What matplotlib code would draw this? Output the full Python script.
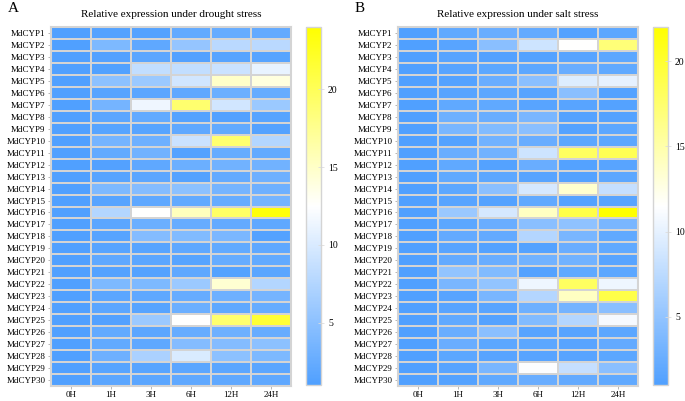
import matplotlib

matplotlib.use("Agg")
import matplotlib.pyplot as plt
import numpy as np
from matplotlib.colors import LinearSegmentedColormap

genes = [f"MdCYP{i}" for i in range(1, 31)]
times = ["0H", "1H", "3H", "6H", "12H", "24H"]

# relative expression, rows = genes, cols = time points
drought = [
    [1, 1.3, 1.3, 2.2, 2.5, 2.3],
    [1, 4, 2, 5.5, 8, 8],
    [1, 1.2, 1.8, 1.2, 1.5, 1.5],
    [1, 1.1, 8.5, 8.5, 9, 11],
    [1, 5, 6, 9.5, 15, 14],
    [1, 1.5, 1.8, 2, 2.8, 2.5],
    [1, 3.5, 11.5, 19, 9.5, 6],
    [1, 1.8, 2.2, 1.3, 1.2, 1.5],
    [1, 1.5, 1.5, 2, 2.2, 1.3],
    [1, 3.5, 3, 9, 19, 7.5],
    [1, 2.2, 3.2, 1.3, 2.5, 2.2],
    [1, 1.2, 2, 2.8, 3.2, 3.2],
    [1, 1.5, 1.8, 1.3, 2.3, 3],
    [1, 4, 4.5, 5, 3.5, 3],
    [1, 1.5, 2, 2.2, 2.5, 3.5],
    [1, 7.5, 12.5, 15.5, 19.5, 23.5],
    [1, 1.8, 2.8, 2.5, 2.3, 2],
    [1, 1.5, 4.5, 4.3, 3.8, 1.3],
    [1, 1.5, 1.5, 2, 2.2, 2],
    [1, 2, 1.8, 1.5, 2.5, 2.2],
    [1, 1.3, 1.3, 2, 1.3, 1.8],
    [1, 4, 4, 6, 14.5, 7.5],
    [1, 1.8, 2, 2.5, 3, 3.5],
    [1, 1.8, 1.5, 2.8, 2, 2.5],
    [1, 1.2, 6, 12.5, 19, 21.5],
    [1, 2.2, 1.8, 2.5, 3, 2.5],
    [1, 2.2, 2, 4.5, 4.5, 5],
    [1, 3, 7, 10, 5, 4],
    [1, 1.5, 1.5, 1.8, 1.8, 1.8],
    [1, 1.8, 1.8, 2, 2, 2],
]

salt = [
    [1, 2, 2.5, 2.2, 1.3, 1.8],
    [1, 1.5, 4.5, 8.5, 11.5, 17],
    [1, 1.5, 1.2, 1.3, 1.5, 1.8],
    [1, 1.5, 1.8, 1.8, 2.5, 2],
    [1, 1.3, 2.5, 4.5, 9.5, 10],
    [1, 1.5, 1.8, 1.5, 4.5, 1.3],
    [1, 2, 2, 1.5, 1.5, 1.3],
    [1, 2.8, 2.5, 3.5, 1.3, 1.3],
    [1, 3.5, 4, 4.5, 1.3, 1.8],
    [1, 1.3, 3, 2.5, 1.8, 1.8],
    [1, 2.5, 3, 8.5, 18, 18.5],
    [1, 2, 1.3, 2.5, 1.3, 1.5],
    [1, 2, 1.8, 1.5, 1.3, 1.8],
    [1, 1.8, 4.5, 9, 13.5, 8],
    [1, 1.5, 1.3, 2, 1.3, 1.5],
    [1, 5.5, 9, 14, 19, 22],
    [1, 1.8, 2.5, 4.5, 4.8, 3.5],
    [1, 2.2, 2.2, 7, 3.5, 2],
    [1, 1.5, 1.3, 1.3, 2.5, 2],
    [1, 2.2, 2.5, 3, 3, 1.5],
    [1, 5, 4, 1.3, 2, 1.8],
    [1, 3.5, 5, 10.5, 18, 10.5],
    [1, 1.5, 3.5, 7, 14, 19],
    [1, 1.5, 1.5, 2.8, 3.2, 4.5],
    [1, 2, 1.3, 4, 7, 11],
    [1, 2.5, 4.5, 1.5, 1.5, 1.8],
    [1, 2.5, 1.8, 1.8, 1.5, 2.2],
    [1, 1.8, 1.5, 1.5, 1.5, 1.8],
    [1, 1.5, 3.5, 11.3, 8, 4.5],
    [1, 1.3, 2, 2.5, 2.2, 2],
]

panels = [
    ("A", "Relative expression under drought stress", drought, (1, 24)),
    ("B", "Relative expression under salt stress", salt, (1, 22)),
]
cbar_ticks = [5, 10, 15, 20]

plt.rcParams["font.family"] = ["Liberation Serif", "DejaVu Serif"]

cmap = LinearSegmentedColormap.from_list("bwy", ["#50a0ff", "#ffffff", "#ffff00"])
grid_col = "#d4d4d4"
tick_col = "#aaaaaa"

fig = plt.figure(figsize=(6.85, 4.01), dpi=100)

lefts = [51 / 685, 398 / 685]
cb_lefts = [306 / 685, 653 / 685]
bottom = 1 - 386 / 401
height = (386 - 27) / 401
width = 240 / 685

for (letter, title, data, (vmin, vmax)), left, cbl in zip(panels, lefts, cb_lefts):
    ax = fig.add_axes([left, bottom, width, height])
    vals = np.array(data)
    mesh = ax.pcolormesh(
        vals, cmap=cmap, vmin=vmin, vmax=vmax,
        edgecolors=grid_col, linewidth=1.2,
    )
    ax.set_xlim(0, len(times))
    ax.set_ylim(len(genes), 0)
    ax.set_xticks(np.arange(len(times)) + 0.5)
    ax.set_xticklabels(times, fontsize=6.5)
    ax.set_yticks(np.arange(len(genes)) + 0.5)
    ax.set_yticklabels(genes, fontsize=6.5)
    ax.tick_params(length=2.5, width=0.6, color=tick_col, pad=1.5)
    ax.tick_params(axis="x", pad=1)
    for s in ax.spines.values():
        s.set_color(grid_col)
        s.set_linewidth(1.5)
    ax.set_title(title, fontsize=8, pad=7)
    fig.text(left - 43 / 685, 1 - 2 / 401, letter, fontsize=11, va="top", ha="left")

    cax = fig.add_axes([cbl, bottom + 1 / 401, 15 / 685, height - 1 / 401])
    cb = fig.colorbar(mesh, cax=cax, ticks=cbar_ticks)
    cb.outline.set_edgecolor(grid_col)
    cb.outline.set_linewidth(1)
    cax.tick_params(length=4, width=0.6, color="#dddddd", direction="inout",
                    labelsize=7, pad=3)

fig.savefig("out.png", dpi=100)
